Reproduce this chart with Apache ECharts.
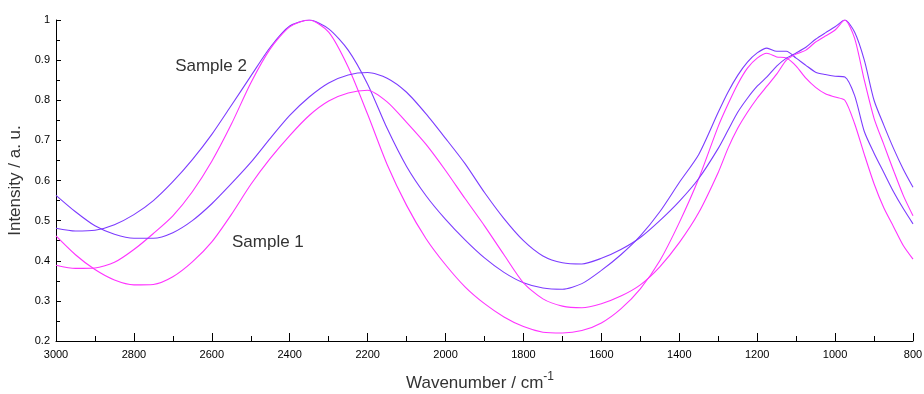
<!DOCTYPE html>
<html>
<head>
<meta charset="utf-8">
<script src="https://cdn.jsdelivr.net/npm/echarts@6/dist/echarts.min.js"></script>
<style>html,body{margin:0;padding:0;background:#fff;}#c{width:924px;height:394px;}</style>
</head>
<body>
<div id="c"></div>
<script>
const wavenumbers = [3000,2950,2900,2850,2800,2750,2700,2650,2600,2550,2500,2450,2400,2350,2300,2250,2200,2150,2100,2050,2000,1950,1900,1850,1800,1750,1700,1650,1600,1550,1500,1450,1400,1350,1300,1275,1250,1225,1200,1175,1150,1125,1100,1075,1050,1025,1000,975,950,925,900,875,850,825,800];

// Sample 2 (purple)
const sample2Purple = [0.481,0.474,0.476,0.490,0.515,0.550,0.597,0.652,0.715,0.787,0.860,0.932,0.985,1.000,0.978,0.925,0.840,0.730,0.635,0.562,0.503,0.452,0.407,0.371,0.345,0.332,0.329,0.343,0.376,0.415,0.462,0.522,0.595,0.665,0.770,0.820,0.862,0.895,0.918,0.930,0.922,0.922,0.905,0.887,0.870,0.864,0.860,0.858,0.812,0.722,0.668,0.620,0.572,0.530,0.492];
// Sample 2 (magenta)
const sample2Magenta = [0.389,0.381,0.382,0.396,0.428,0.468,0.512,0.572,0.648,0.740,0.843,0.928,0.983,1.000,0.970,0.883,0.765,0.640,0.538,0.455,0.390,0.335,0.293,0.260,0.236,0.222,0.220,0.226,0.245,0.280,0.330,0.400,0.495,0.605,0.735,0.790,0.840,0.880,0.905,0.917,0.908,0.905,0.885,0.855,0.832,0.816,0.808,0.800,0.742,0.665,0.592,0.532,0.485,0.438,0.404];
// Sample 1 (purple)
const sample1Purple = [0.563,0.522,0.487,0.466,0.456,0.456,0.470,0.500,0.542,0.592,0.645,0.705,0.762,0.808,0.843,0.863,0.869,0.855,0.820,0.766,0.705,0.642,0.570,0.505,0.450,0.412,0.395,0.392,0.406,0.428,0.458,0.500,0.548,0.605,0.680,0.725,0.770,0.805,0.835,0.858,0.885,0.905,0.918,0.932,0.952,0.968,0.983,1.000,0.970,0.900,0.800,0.738,0.680,0.628,0.583];
// Sample 1 (magenta)
const sample1Magenta = [0.462,0.415,0.378,0.352,0.340,0.341,0.360,0.397,0.447,0.515,0.590,0.655,0.712,0.762,0.798,0.818,0.825,0.796,0.745,0.690,0.625,0.555,0.487,0.415,0.345,0.305,0.287,0.283,0.293,0.312,0.340,0.385,0.445,0.520,0.620,0.680,0.730,0.770,0.805,0.835,0.865,0.900,0.915,0.925,0.945,0.960,0.975,1.000,0.955,0.850,0.755,0.690,0.625,0.563,0.512];

const xTicks = [3000,2800,2600,2400,2200,2000,1800,1600,1400,1200,1000,800];
const yTicks = [0.2,0.3,0.4,0.5,0.6,0.7,0.8,0.9,1];

const labelNames = ['Sample 2','Sample 1'];
const labelWn = [2602, 2456];
const labelVal = [0.885, 0.447];

const PURPLE = '#7d3cff';
const MAGENTA = '#ff33ff';
const FONT = 'Liberation Sans, Arial, sans-serif';

function pairs(vals){ return wavenumbers.map((w,i)=>[w, vals[i]]); }

function mk(name, vals, color, mark){
  const s = {
    name: name, type: 'line', data: pairs(vals), showSymbol: false, smooth: 0.25,
    lineStyle: {color: color, width: 1.1}, itemStyle:{color: color}, silent: true, z: 3
  };
  if (mark !== undefined) {
    s.markPoint = {
      symbol: 'circle', symbolSize: 0, silent: true,
      data: [{coord: [labelWn[mark], labelVal[mark]], value: labelNames[mark]}],
      label: {show: true, position: 'inside', formatter: labelNames[mark], color: '#333',
              fontSize: 17, fontFamily: FONT}
    };
  }
  return s;
}

const chart = echarts.init(document.getElementById('c'));
chart.setOption({
  animation: false,
  backgroundColor: '#fff',
  grid: {left: 56, right: 11, top: 20, bottom: 53, containLabel: false, outerBoundsMode: 'none'},
  xAxis: {
    type: 'value', inverse: true, min: 800, max: 3000, interval: 200,
    name: 'Wavenumber / cm{sup|-1}', nameLocation: 'middle', nameGap: 30,
    nameTextStyle: {color: '#333', fontSize: 17, fontFamily: FONT, padding: [0, 9, 0, 0],
      rich: {sup: {fontSize: 12, color:'#333', verticalAlign: 'top', padding: [0,0,12,0], fontFamily: FONT}}},
    axisLine: {show: true, lineStyle: {color: '#000', width: 1}},
    axisTick: {show: true, inside: true, length: 8, lineStyle: {color: '#000'}},
    minorTick: {show: true, splitNumber: 2, length: 5, lineStyle: {color: '#000'}},
    splitLine: {show: false},
    axisLabel: {color: '#000', fontSize: 11, margin: 8, fontFamily: FONT,
      formatter: v => xTicks.includes(v) ? String(v) : ''}
  },
  yAxis: {
    type: 'value', min: 0.2, max: 1, interval: 0.1,
    name: 'Intensity / a. u.', nameLocation: 'middle', nameGap: 25,
    nameTextStyle: {color: '#333', fontSize: 17, fontFamily: FONT},
    axisLine: {show: true, lineStyle: {color: '#000', width: 1}},
    axisTick: {show: true, inside: true, length: 5, lineStyle: {color: '#000'}},
    minorTick: {show: true, splitNumber: 2, length: 4, lineStyle: {color: '#000'}},
    splitLine: {show: false},
    axisLabel: {color: '#000', fontSize: 11, margin: 6, fontFamily: FONT,
      formatter: v => { const r = Math.round(v*10)/10; return yTicks.some(t => Math.abs(t-r)<1e-9) ? String(r) : ''; }}
  },
  series: [
    mk('Sample 2 (purple)', sample2Purple, PURPLE, 0),
    mk('Sample 2 (magenta)', sample2Magenta, MAGENTA),
    mk('Sample 1 (purple)', sample1Purple, PURPLE, 1),
    mk('Sample 1 (magenta)', sample1Magenta, MAGENTA)
  ]
});
</script>
</body>
</html>
